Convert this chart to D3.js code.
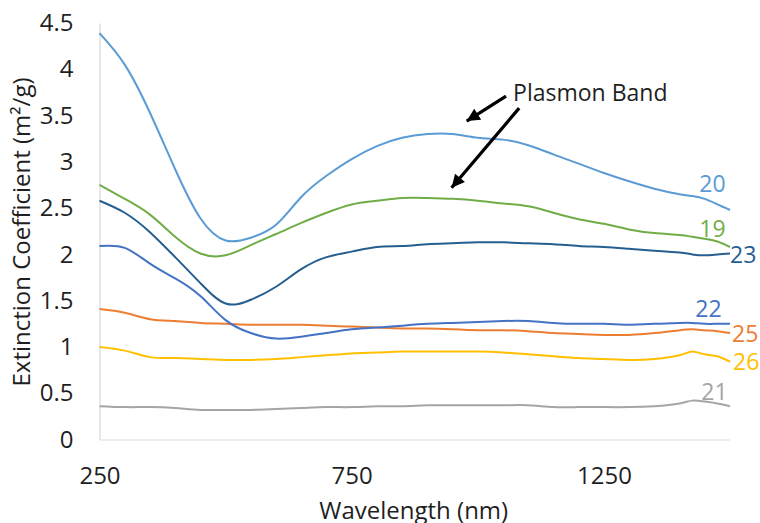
<!DOCTYPE html>
<html>
<head>
<meta charset="utf-8">
<script src="https://cdn.jsdelivr.net/npm/d3@7"></script>
<style>
  html, body { margin: 0; padding: 0; background: #fff; }
  svg { display: block; font-family: "Open Sans", sans-serif; }
</style>
</head>
<body>
<svg id="chart" width="760" height="523"></svg>
<script>
// Wavelength grid (nm) shared by every sample
const wavelengths = [250, 300, 350, 400, 450, 500, 550, 600, 650, 700, 750, 800, 850, 900,
  950, 1000, 1050, 1100, 1150, 1200, 1250, 1300, 1350, 1400, 1425, 1450, 1475, 1500];

// Extinction coefficient (m²/g) per sample
const s20 = [4.39, 4.05, 3.53, 2.92, 2.39, 2.15, 2.18, 2.32, 2.62, 2.85, 3.03, 3.17, 3.26, 3.30,
  3.30, 3.26, 3.24, 3.18, 3.08, 2.98, 2.88, 2.79, 2.71, 2.65, 2.63, 2.60, 2.54, 2.48];
const s25 = [1.41, 1.37, 1.30, 1.28, 1.26, 1.25, 1.24, 1.24, 1.24, 1.23, 1.22, 1.21, 1.20, 1.20,
  1.19, 1.18, 1.18, 1.17, 1.15, 1.14, 1.13, 1.13, 1.15, 1.18, 1.19, 1.18, 1.17, 1.15];
const s21 = [0.36, 0.35, 0.35, 0.34, 0.32, 0.32, 0.32, 0.33, 0.34, 0.35, 0.35, 0.36, 0.36, 0.37,
  0.37, 0.37, 0.37, 0.37, 0.35, 0.35, 0.35, 0.35, 0.36, 0.39, 0.42, 0.41, 0.39, 0.36];
const s26 = [1.00, 0.96, 0.89, 0.88, 0.87, 0.86, 0.86, 0.87, 0.89, 0.91, 0.93, 0.94, 0.95, 0.95,
  0.95, 0.95, 0.94, 0.92, 0.90, 0.88, 0.87, 0.86, 0.87, 0.91, 0.95, 0.92, 0.90, 0.84];
const s22 = [2.09, 2.07, 1.90, 1.74, 1.55, 1.29, 1.15, 1.09, 1.11, 1.15, 1.19, 1.21, 1.23, 1.25,
  1.26, 1.27, 1.28, 1.28, 1.26, 1.25, 1.25, 1.24, 1.25, 1.26, 1.26, 1.25, 1.25, 1.25];
const s19 = [2.75, 2.60, 2.43, 2.19, 2.01, 1.99, 2.10, 2.22, 2.34, 2.45, 2.54, 2.58, 2.61, 2.61,
  2.60, 2.58, 2.55, 2.52, 2.45, 2.38, 2.33, 2.27, 2.23, 2.21, 2.19, 2.17, 2.14, 2.08];
const s23 = [2.58, 2.45, 2.24, 1.97, 1.69, 1.47, 1.51, 1.65, 1.84, 1.97, 2.03, 2.08, 2.09, 2.11,
  2.12, 2.13, 2.13, 2.12, 2.11, 2.09, 2.08, 2.06, 2.04, 2.02, 2.00, 1.99, 2.00, 2.01];

const sampleNames = ["20", "25", "21", "26", "22", "19", "23"];
const sampleValues = [s20, s25, s21, s26, s22, s19, s23];

// Axis ticks
const xTicks = [250, 750, 1250];
const yTicks = [0, 0.5, 1, 1.5, 2, 2.5, 3, 3.5, 4, 4.5];

// Annotation: label anchor and two arrows (tail -> tip), in data units
const annotationText = "Plasmon Band";
const annotationAnchor = [1070, 3.66];
const arrowTails = [[1056, 3.71], [1082, 3.58]];
const arrowTips = [[978, 3.44], [948, 2.72]];

// ---- layout & style ----
const colors = {
  "20": "#5B9BD5", "25": "#ED7D31", "21": "#A5A5A5", "26": "#FFC000",
  "22": "#4472C4", "19": "#70AD47", "23": "#255E91"
};
// end-of-line label placement: [dx, dy, anchor]
const labelPlace = {
  "20": [-17.5, -18, "middle"],
  "19": [-17.5, -10, "middle"],
  "23": [0, 10, "start"],
  "22": [-21.5, -7, "middle"],
  "25": [2, 9, "start"],
  "26": [3, 8, "start"],
  "21": [-15.5, -6, "middle"]
};

const plot = { left: 99.5, right: 730, top: 23, bottom: 439.5 };
const textColor = "#1f1f1f";

const svg = d3.select("#chart");

const x = d3.scaleLinear().domain([250, 1500]).range([plot.left, plot.right]);
const y = d3.scaleLinear().domain([0, 4.5]).range([plot.bottom, plot.top]);

// axes
const xAxis = svg.append("g")
  .attr("transform", `translate(0,${plot.bottom})`)
  .call(d3.axisBottom(x).tickValues(xTicks).tickSize(0).tickPadding(27).tickFormat(d3.format("d")));
const yAxis = svg.append("g")
  .attr("transform", `translate(${plot.left},0)`)
  .call(d3.axisLeft(y).tickValues(yTicks).tickSize(0).tickPadding(26).tickFormat(d => String(d)));

[xAxis, yAxis].forEach(g => {
  g.select(".domain").attr("stroke", "#D9D9D9").attr("stroke-width", 1.2);
  g.selectAll(".tick text")
    .attr("fill", textColor)
    .style("font-family", "'Open Sans', sans-serif")
    .style("font-size", "24px");
});

// axis titles
svg.append("text")
  .attr("x", (plot.left + plot.right) / 2 - 1)
  .attr("y", 519)
  .attr("text-anchor", "middle")
  .attr("fill", textColor)
  .style("font-size", "24px")
  .text("Wavelength (nm)");

svg.append("text")
  .attr("transform", "translate(30,232) rotate(-90)")
  .attr("text-anchor", "middle")
  .attr("fill", textColor)
  .style("font-size", "24px")
  .text("Extinction Coefficient (m²/g)");

// spectra
const line = d3.line()
  .x((d, i) => x(wavelengths[i]))
  .y(d => y(d))
  .curve(d3.curveNatural);

sampleNames.forEach((name, k) => {
  svg.append("path")
    .datum(sampleValues[k])
    .attr("fill", "none")
    .attr("stroke", colors[name])
    .attr("stroke-width", 2)
    .attr("stroke-linejoin", "round")
    .attr("d", line);
});

// sample labels at line ends
sampleNames.forEach((name, k) => {
  const vals = sampleValues[k];
  const last = vals.length - 1;
  const [dx, dy, anchor] = labelPlace[name];
  svg.append("text")
    .attr("x", x(wavelengths[last]) + dx)
    .attr("y", y(vals[last]) + dy)
    .attr("text-anchor", anchor)
    .attr("fill", colors[name])
    .style("font-size", "23px")
    .text(name);
});

// annotation arrows
const defs = svg.append("defs");
defs.append("marker")
  .attr("id", "arrowhead")
  .attr("viewBox", "0 0 10 10")
  .attr("refX", 10).attr("refY", 5)
  .attr("markerUnits", "userSpaceOnUse")
  .attr("markerWidth", 15).attr("markerHeight", 13)
  .attr("orient", "auto")
  .append("path")
  .attr("d", "M0,0 L10,5 L0,10 Z")
  .attr("fill", "#000");

arrowTails.forEach((t, i) => {
  const p = arrowTips[i];
  svg.append("line")
    .attr("x1", x(t[0])).attr("y1", y(t[1]))
    .attr("x2", x(p[0])).attr("y2", y(p[1]))
    .attr("stroke", "#000")
    .attr("stroke-width", 3.2)
    .attr("marker-end", "url(#arrowhead)");
});

svg.append("text")
  .attr("x", x(annotationAnchor[0]))
  .attr("y", y(annotationAnchor[1]))
  .attr("fill", textColor)
  .style("font-size", "23px")
  .text(annotationText);
</script>
</body>
</html>
